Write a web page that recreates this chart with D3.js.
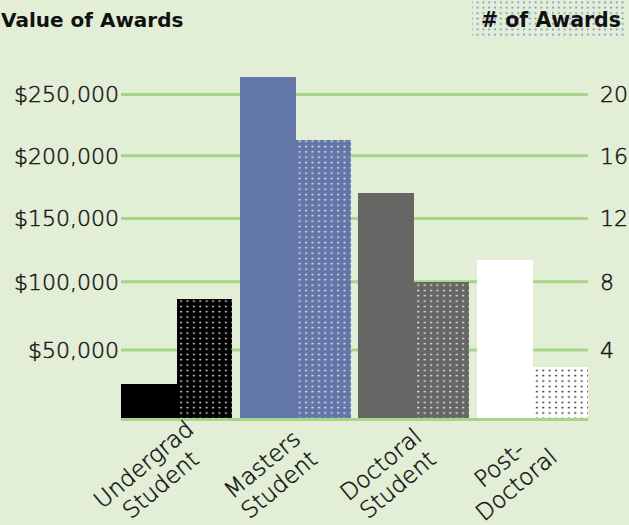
<!DOCTYPE html>
<html>
<head>
<meta charset="utf-8">
<script src="https://cdn.jsdelivr.net/npm/d3@7"></script>
<style>
  html, body { margin: 0; padding: 0; background: #e2efd6; }
  svg { display: block; }
  text { font-family: "DejaVu Sans", sans-serif; fill: #111111; }
  .light { stroke: #111111; stroke-width: 0.45px; }
</style>
</head>
<body>
<svg id="chart" width="629" height="525"></svg>
<script>
// ---- data ----
const categories = ["Undergrad Student", "Masters Student", "Doctoral Student", "Post-Doctoral"];
const labelLines = [["Undergrad", "Student"], ["Masters", "Student"], ["Doctoral", "Student"], ["Post-", "Doctoral"]];
const awardValues = [25000, 264000, 170000, 117000];   // Value of Awards ($)
const awardCounts = [7, 17, 8, 3];                      // # of Awards
const valueTicks = [50000, 100000, 150000, 200000, 250000];
const countTicks = [4, 8, 12, 16, 20];
const barColors = ["#000000", "#6276a8", "#666664", "#ffffff"];
const dotColors = ["#ffffff", "#ffffff", "#ffffff", "#000000"];

// ---- setup ----
const svg = d3.select("#chart");
const W = 629, H = 525;
svg.append("rect").attr("width", W).attr("height", H).attr("fill", "#e2efd6");

const defs = svg.append("defs");
dotColors.forEach((c, i) => {
  const p = defs.append("pattern")
    .attr("id", "dots" + i)
    .attr("patternUnits", "userSpaceOnUse")
    .attr("width", 6.4).attr("height", 5.33)
    .attr("x", 0.5).attr("y", 0.3);
  p.append("rect").attr("x", 1).attr("y", 1.6).attr("width", 2).attr("height", 1.4)
    .attr("fill", c).attr("opacity", i === 3 ? 0.8 : 0.85);
});
const tp = defs.append("pattern")
  .attr("id", "titleDots")
  .attr("patternUnits", "userSpaceOnUse")
  .attr("width", 5.8).attr("height", 5.4);
tp.append("rect").attr("x", 1).attr("y", 1.5).attr("width", 2).attr("height", 1.6)
  .attr("fill", "#7d90c4");

// scales (value axis follows the reference's gridline placement)
const y = d3.scaleLinear()
  .domain([0, 50000, 100000, 150000, 200000, 250000])
  .range([418.5, 350, 281.7, 218.5, 155.7, 94.5]);
const yCount = d3.scaleLinear()
  .domain([0, 4, 8, 12, 16, 20])
  .range(y.range());

const x = d3.scaleBand().domain(categories).range([121, 588]).paddingInner(0.062);
const sub = d3.scaleBand().domain(["value", "count"]).range([0, x.bandwidth()]);

// gridlines
const gridColor = "#a8d58a";
svg.append("g").selectAll("line").data(valueTicks).join("line")
  .attr("x1", 121).attr("x2", 588)
  .attr("y1", d => y(d)).attr("y2", d => y(d))
  .attr("stroke", gridColor).attr("stroke-width", 3);

// bars
const groups = svg.append("g").attr("shape-rendering", "crispEdges")
  .selectAll("g").data(categories).join("g")
  .attr("transform", d => `translate(${x(d)},0)`);
groups.append("rect")
  .attr("x", sub("value")).attr("width", sub.bandwidth() + 0.5)
  .attr("y", (d, i) => y(awardValues[i]))
  .attr("height", (d, i) => y(0) - y(awardValues[i]))
  .attr("fill", (d, i) => barColors[i]);
groups.append("rect")
  .attr("x", sub("count")).attr("width", sub.bandwidth())
  .attr("y", (d, i) => yCount(awardCounts[i]))
  .attr("height", (d, i) => yCount(0) - yCount(awardCounts[i]))
  .attr("fill", (d, i) => barColors[i]);
groups.append("rect")
  .attr("x", sub("count")).attr("width", sub.bandwidth())
  .attr("y", (d, i) => yCount(awardCounts[i]))
  .attr("height", (d, i) => yCount(0) - yCount(awardCounts[i]))
  .attr("fill", (d, i) => `url(#dots${i})`);

// baseline
svg.append("line").attr("x1", 121).attr("x2", 588)
  .attr("y1", y(0) + 1).attr("y2", y(0) + 1)
  .attr("stroke", gridColor).attr("stroke-width", 3);

// left axis labels
svg.append("g").selectAll("text").data(valueTicks).join("text")
  .attr("class", "light")
  .attr("x", 119).attr("y", d => y(d))
  .attr("dy", "0.36em")
  .attr("text-anchor", "end")
  .attr("font-size", 22).attr("font-weight", 300)
  .text(d => "$" + d3.format(",")(d));

// right axis labels
svg.append("g").selectAll("text").data(countTicks).join("text")
  .attr("class", "light")
  .attr("x", 600).attr("y", d => yCount(d))
  .attr("dy", "0.36em")
  .attr("text-anchor", "start")
  .attr("font-size", 22).attr("font-weight", 300)
  .text(d => d);

// titles
svg.append("text").attr("x", 1).attr("y", 26.5)
  .attr("text-anchor", "start").attr("font-size", 20).attr("font-weight", "bold")
  .text("Value of Awards");
svg.append("rect").attr("x", 472).attr("y", 1).attr("width", 152).attr("height", 35)
  .attr("fill", "url(#titleDots)");
svg.append("text").attr("x", 621).attr("y", 26.5)
  .attr("text-anchor", "end").attr("font-size", 20.5).attr("font-weight", "bold")
  .text("# of Awards");

// x labels
const xl = svg.append("g").selectAll("text").data(categories).join("text")
  .attr("class", "light")
  .attr("transform", d => `translate(${x(d) + x.bandwidth() / 2 - 25},474) rotate(-40)`)
  .attr("text-anchor", "middle")
  .attr("font-size", 23).attr("font-weight", 300);
xl.each(function(d, i) {
  const t = d3.select(this);
  t.append("tspan").attr("x", 0).attr("dy", "-0.2em").text(labelLines[i][0]);
  t.append("tspan").attr("x", 0).attr("dy", "1.15em").text(labelLines[i][1]);
});
</script>
</body>
</html>
